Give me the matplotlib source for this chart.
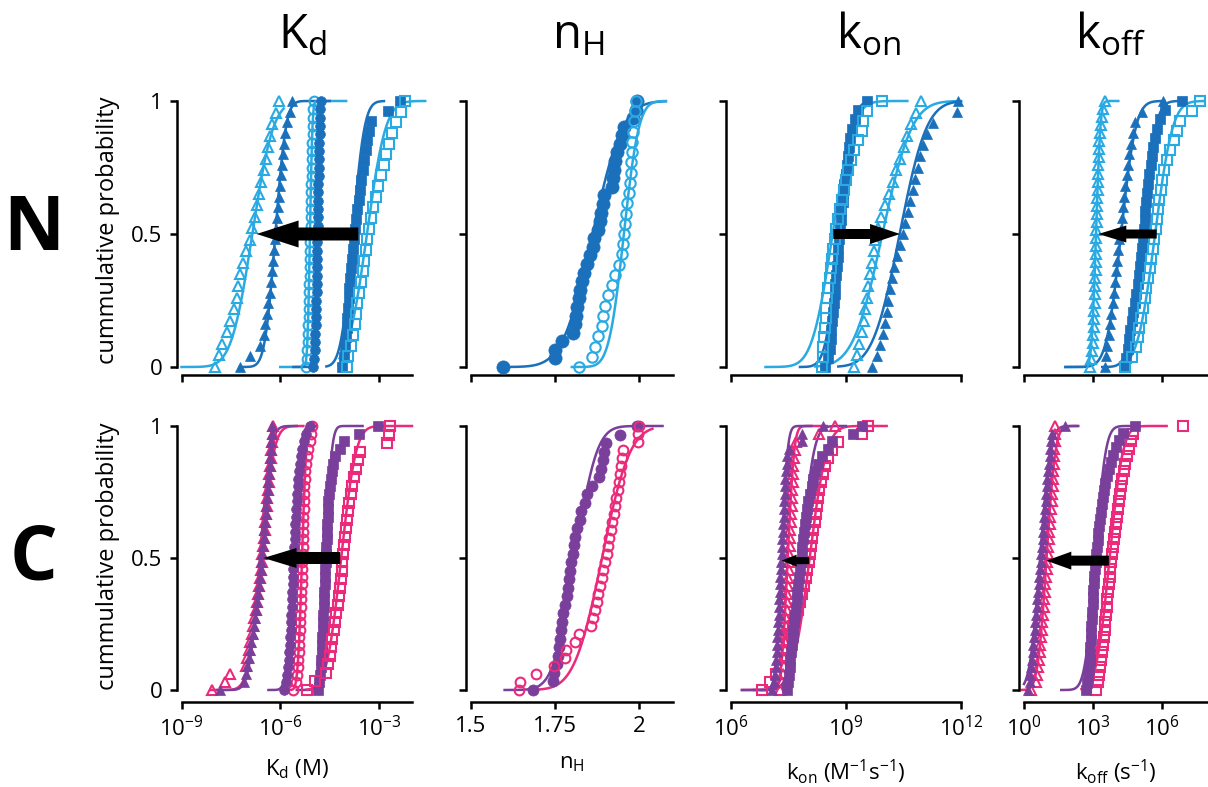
import math
import numpy as np
import matplotlib
matplotlib.use("Agg")
import matplotlib.pyplot as plt
from matplotlib.ticker import FixedLocator, NullLocator

plt.rcParams['font.family'] = ['Open Sans', 'DejaVu Sans']
plt.rcParams['mathtext.default'] = 'regular'

# ---------------- colours ----------------
LIGHT_BLUE = '#2aaae2'
DARK_BLUE = '#1a70bb'
PURPLE = '#7a3e9b'
PINK = '#ec2a7b'

# ---------------- data (log10 values for Kd/kon/koff, raw for nH) ----------------
# cumulative probability of each point = rank / (n - 1)
# --- N row ---
N_KD_TRI_OPEN = [-7.99, -7.85, -7.76, -7.62, -7.54, -7.42, -7.31, -7.27, -7.23, -7.12, -7.03, -6.93,
                 -6.85, -6.78, -6.72, -6.66, -6.58, -6.50, -6.44, -6.38, -6.30, -6.24, -6.14, -6.03]
N_KD_TRI_FILL = [-7.23, -6.93, -6.62, -6.50, -6.45, -6.40, -6.36, -6.32, -6.28, -6.25, -6.22, -6.19, -6.16,
                 -6.13, -6.10, -6.07, -6.04, -6.01, -5.98, -5.95, -5.92, -5.89, -5.85, -5.80, -5.72, -5.63]
N_KD_CIR_OPEN = [-5.21, -5.19, -5.18, -5.17, -5.16, -5.15, -5.14, -5.14, -5.13, -5.12, -5.12, -5.11,
                 -5.11, -5.10, -5.10, -5.09, -5.09, -5.08, -5.08, -5.07, -5.07, -5.06, -5.06, -5.05,
                 -5.05, -5.04, -5.04, -5.03, -5.02, -5.02, -5.01, -5.00, -4.99]
N_KD_CIR_FILL = [-5.00, -4.98, -4.96, -4.95, -4.94, -4.93, -4.92, -4.92, -4.91, -4.90, -4.90, -4.89,
                 -4.89, -4.88, -4.88, -4.87, -4.87, -4.86, -4.86, -4.85, -4.85, -4.84, -4.84, -4.83,
                 -4.83, -4.82, -4.82, -4.81, -4.80, -4.80, -4.79, -4.78, -4.77]
N_KD_SQ_FILL = [-4.13, -4.08, -4.03, -4.00, -3.98, -3.96, -3.94, -3.92, -3.90, -3.88, -3.86, -3.83, -3.80,
                -3.77, -3.74, -3.70, -3.66, -3.62, -3.58, -3.54, -3.50, -3.45, -3.41, -3.36, -3.31, -3.25,
                -2.73, -2.37]
N_KD_SQ_OPEN = [-3.98, -3.93, -3.86, -3.80, -3.74, -3.70, -3.66, -3.60, -3.55, -3.50, -3.45, -3.40, -3.36,
                -3.30, -3.24, -3.18, -3.10, -3.03, -2.95, -2.86, -2.78, -2.70, -2.60, -2.48, -2.32, -2.20]

N_NH_CIR_FILL = [1.596, 1.750, 1.751, 1.770, 1.804, 1.809, 1.812, 1.816, 1.820, 1.824, 1.829, 1.836, 1.844,
                 1.854, 1.864, 1.866, 1.879, 1.884, 1.886, 1.892, 1.896, 1.919, 1.923, 1.926, 1.929, 1.934,
                 1.944, 1.949, 1.954, 1.983, 1.990, 1.994]
N_NH_CIR_OPEN = [1.822, 1.859, 1.869, 1.878, 1.889, 1.892, 1.900, 1.909, 1.919, 1.930, 1.940, 1.948, 1.952,
                 1.955, 1.959, 1.962, 1.965, 1.969, 1.973, 1.976, 1.976, 1.980, 1.980, 1.983, 1.985, 1.987,
                 1.990]

N_KON_SQ_FILL = [8.45, 8.52, 8.57, 8.60, 8.62, 8.64, 8.66, 8.68, 8.70, 8.72, 8.74, 8.76, 8.78, 8.80, 8.82,
                 8.84, 8.86, 8.88, 8.91, 8.93, 8.96, 8.99, 9.02, 9.05, 9.08, 9.11, 9.16, 9.23, 9.32, 9.54]
N_KON_SQ_OPEN = [8.37, 8.39, 8.41, 8.43, 8.45, 8.47, 8.49, 8.51, 8.54, 8.57, 8.60, 8.63, 8.67, 8.71, 8.75,
                 8.80, 8.85, 8.89, 8.94, 9.00, 9.06, 9.13, 9.20, 9.30, 9.41, 9.45, 9.55, 9.93]
N_KON_TRI_OPEN = [9.21, 9.28, 9.35, 9.41, 9.46, 9.50, 9.55, 9.58, 9.63, 9.67, 9.72, 9.76, 9.84, 9.92,
                  10.02, 10.12, 10.22, 10.30, 10.41, 10.50, 10.60, 10.70, 10.82, 10.95]
N_KON_TRI_FILL = [9.67, 9.80, 9.89, 9.96, 10.02, 10.07, 10.10, 10.15, 10.20, 10.24, 10.32, 10.41, 10.48,
                  10.54, 10.61, 10.67, 10.74, 10.80, 10.87, 10.93, 11.02, 11.11, 11.28, 11.89, 11.93]

N_KOFF_TRI_OPEN = [2.87, 2.93, 2.97, 3.00, 3.02, 3.04, 3.05, 3.06, 3.07, 3.08, 3.09, 3.10, 3.11, 3.12,
                   3.13, 3.13, 3.14, 3.15, 3.16, 3.17, 3.18, 3.19, 3.20, 3.21, 3.22, 3.23, 3.24, 3.26,
                   3.28, 3.30, 3.33, 3.37, 3.42, 3.52]
N_KOFF_TRI_FILL = [3.52, 3.55, 3.62, 3.68, 3.74, 3.80, 3.85, 3.90, 3.95, 4.00, 4.05, 4.10, 4.15, 4.20,
                   4.25, 4.30, 4.35, 4.41, 4.46, 4.52, 4.58, 4.65, 4.72, 4.82, 5.12, 6.06]
N_KOFF_SQ_FILL = [4.39, 4.45, 4.52, 4.58, 4.63, 4.70, 4.76, 4.82, 4.88, 4.94, 5.00, 5.05, 5.10, 5.14,
                  5.18, 5.21, 5.24, 5.27, 5.30, 5.34, 5.38, 5.44, 5.50, 5.57, 5.63, 5.70, 5.77, 5.90,
                  6.13, 6.86]
N_KOFF_SQ_OPEN = [4.39, 4.70, 4.88, 4.95, 5.02, 5.10, 5.16, 5.24, 5.32, 5.40, 5.48, 5.54, 5.60, 5.66,
                  5.72, 5.77, 5.83, 5.89, 5.95, 6.02, 6.10, 6.22, 6.35, 6.50, 6.65, 6.80, 7.29, 7.65]

# --- C row ---
C_KD_TRI_FILL = [-7.82, -7.10, -7.04, -7.00, -6.96, -6.92, -6.88, -6.84, -6.80, -6.77, -6.74, -6.71,
                 -6.68, -6.66, -6.63, -6.60, -6.58, -6.55, -6.53, -6.50, -6.48, -6.46, -6.44, -6.42,
                 -6.40, -6.38, -6.36, -6.34, -6.32, -6.31, -6.29, -6.28, -6.26, -6.25]
C_KD_TRI_OPEN = [-8.07, -7.67, -7.52, -7.05, -7.00, -6.95, -6.91, -6.87, -6.83, -6.79, -6.75, -6.72,
                 -6.69, -6.66, -6.63, -6.60, -6.57, -6.55, -6.52, -6.50, -6.47, -6.45, -6.43, -6.41,
                 -6.39, -6.37, -6.35, -6.33, -6.31, -6.29, -6.27, -6.25, -6.23, -6.21]
C_KD_CIR_FILL = [-5.90, -5.84, -5.80, -5.77, -5.75, -5.73, -5.71, -5.70, -5.68, -5.67, -5.66, -5.65,
                 -5.64, -5.63, -5.62, -5.61, -5.60, -5.59, -5.58, -5.57, -5.56, -5.55, -5.54, -5.53,
                 -5.52, -5.50, -5.49, -5.47, -5.45, -5.43, -5.40, -5.37, -5.33, -5.29, -5.22, -5.09]
C_KD_CIR_OPEN = [-5.60, -5.53, -5.49, -5.47, -5.45, -5.44, -5.43, -5.42, -5.41, -5.40, -5.39, -5.38,
                 -5.37, -5.36, -5.35, -5.34, -5.33, -5.33, -5.32, -5.32, -5.31, -5.31, -5.30, -5.30,
                 -5.29, -5.29, -5.28, -5.27, -5.26, -5.24, -5.22, -5.19, -5.15, -5.11, -5.06, -5.03]
C_KD_SQ_FILL = [-4.84, -4.81, -4.79, -4.77, -4.76, -4.74, -4.73, -4.72, -4.71, -4.70, -4.69, -4.68,
                -4.67, -4.66, -4.65, -4.64, -4.63, -4.62, -4.61, -4.60, -4.59, -4.58, -4.57, -4.56,
                -4.55, -4.54, -4.52, -4.50, -4.47, -4.44, -4.40, -4.35, -4.20, -4.08, -3.60, -3.02]
C_KD_SQ_OPEN = [-5.19, -4.94, -4.62, -4.55, -4.50, -4.46, -4.42, -4.38, -4.34, -4.30, -4.26, -4.23,
                -4.20, -4.17, -4.14, -4.12, -4.10, -4.07, -4.04, -4.01, -3.98, -3.94, -3.90, -3.86,
                -3.82, -3.76, -3.70, -3.64, -3.58, -2.77, -2.70, -2.66]

C_NH_CIR_FILL = [1.686, 1.745, 1.748, 1.755, 1.758, 1.762, 1.765, 1.768, 1.772, 1.775, 1.780, 1.785,
                 1.788, 1.792, 1.795, 1.799, 1.803, 1.806, 1.810, 1.815, 1.824, 1.828, 1.838, 1.844,
                 1.859, 1.880, 1.886, 1.892, 1.896, 1.902, 1.943, 1.993]
C_NH_CIR_OPEN = [1.644, 1.645, 1.693, 1.747, 1.780, 1.783, 1.810, 1.822, 1.856, 1.863, 1.869, 1.874,
                 1.879, 1.884, 1.890, 1.894, 1.898, 1.904, 1.908, 1.912, 1.916, 1.920, 1.925, 1.929,
                 1.933, 1.938, 1.941, 1.944, 1.946, 1.948, 1.952, 1.996, 1.998, 1.999]

C_KON_TRI_FILL = [7.06, 7.12, 7.15, 7.17, 7.18, 7.19, 7.20, 7.21, 7.22, 7.23, 7.24, 7.25, 7.26, 7.27,
                  7.28, 7.29, 7.30, 7.31, 7.32, 7.33, 7.34, 7.35, 7.36, 7.37, 7.38, 7.39, 7.40, 7.41,
                  7.42, 7.43, 7.45, 7.47, 7.52, 7.84, 7.86, 8.41]
C_KON_TRI_OPEN = [7.28, 7.32, 7.35, 7.37, 7.38, 7.40, 7.41, 7.42, 7.43, 7.44, 7.45, 7.46, 7.47, 7.48,
                  7.49, 7.50, 7.51, 7.52, 7.53, 7.54, 7.55, 7.56, 7.57, 7.58, 7.59, 7.60, 7.61, 7.62,
                  7.63, 7.65, 7.67, 7.70, 8.30, 8.71]
C_KON_SQ_FILL = [7.45, 7.48, 7.51, 7.53, 7.55, 7.57, 7.59, 7.61, 7.63, 7.65, 7.67, 7.69, 7.71, 7.73,
                 7.75, 7.77, 7.80, 7.82, 7.84, 7.86, 7.88, 7.91, 7.93, 7.96, 7.99, 8.02, 8.06, 8.10,
                 8.15, 8.20, 8.28, 8.38, 8.52, 8.63, 9.19, 9.41]
C_KON_SQ_OPEN = [6.80, 7.02, 7.18, 7.30, 7.40, 7.46, 7.50, 7.56, 7.62, 7.68, 7.74, 7.80, 7.86, 7.91,
                 7.95, 7.99, 8.03, 8.06, 8.09, 8.12, 8.15, 8.18, 8.21, 8.24, 8.27, 8.30, 8.34, 8.39,
                 8.46, 8.54, 8.63, 8.80, 9.41, 9.58]

C_KOFF_TRI_FILL = [0.19, 0.24, 0.28, 0.31, 0.34, 0.37, 0.40, 0.43, 0.46, 0.49, 0.52, 0.55, 0.58, 0.61,
                   0.64, 0.66, 0.69, 0.72, 0.75, 0.78, 0.81, 0.83, 0.86, 0.88, 0.91, 0.94, 0.97, 1.00,
                   1.02, 1.05, 1.08, 1.11, 1.14, 1.17, 1.20, 1.80]
C_KOFF_TRI_OPEN = [0.30, 0.54, 0.58, 0.62, 0.65, 0.68, 0.71, 0.74, 0.77, 0.80, 0.83, 0.85, 0.88, 0.90,
                   0.93, 0.95, 0.98, 1.00, 1.03, 1.05, 1.08, 1.10, 1.13, 1.15, 1.18, 1.20, 1.22, 1.24,
                   1.26, 1.28, 1.30, 1.31, 1.32, 1.33, 1.34, 1.35]
C_KOFF_SQ_FILL = [2.69, 2.76, 2.80, 2.83, 2.85, 2.87, 2.89, 2.90, 2.92, 2.93, 2.95, 2.97, 2.98, 3.00,
                  3.02, 3.04, 3.06, 3.08, 3.11, 3.14, 3.17, 3.20, 3.23, 3.26, 3.29, 3.33, 3.37, 3.42,
                  3.48, 3.54, 3.62, 3.70, 3.78, 3.88, 3.98, 4.12, 4.30, 4.83]
C_KOFF_SQ_OPEN = [3.14, 3.22, 3.28, 3.32, 3.36, 3.40, 3.44, 3.47, 3.50, 3.54, 3.57, 3.60, 3.63, 3.66,
                  3.69, 3.72, 3.75, 3.78, 3.82, 3.86, 3.90, 3.94, 3.98, 4.03, 4.08, 4.13, 4.18, 4.23,
                  4.28, 4.34, 4.40, 4.48, 4.56, 4.64, 4.76, 6.90]

# fitted cumulative-normal curves: (centre, sigma, x from, x to)
FITS = {
    'N_KD_TRI_OPEN': (-6.85, 0.50, -9.0, -5.9), 'N_KD_TRI_FILL': (-6.15, 0.25, -7.23, -4.9),
    'N_KD_CIR_OPEN': (-5.10, 0.06, -6.0, -4.0), 'N_KD_CIR_FILL': (-4.88, 0.06, -5.6, -4.5),
    'N_KD_SQ_FILL': (-3.80, 0.28, -4.6, -2.85), 'N_KD_SQ_OPEN': (-3.37, 0.45, -4.2, -1.6),
    'N_NH_CIR_FILL': (1.862, 0.07, 1.596, 2.08), 'N_NH_CIR_OPEN': (1.955, 0.035, 1.80, 2.08),
    'N_KON_SQ_FILL': (8.82, 0.27, 7.8, 9.6), 'N_KON_SQ_OPEN': (8.65, 0.42, 6.9, 10.6),
    'N_KON_TRI_OPEN': (9.95, 0.60, 8.2, 12.0), 'N_KON_TRI_FILL': (10.40, 0.55, 8.8, 12.0),
    'N_KOFF_TRI_OPEN': (3.13, 0.15, 1.8, 4.1), 'N_KOFF_TRI_FILL': (4.22, 0.50, 1.8, 6.1),
    'N_KOFF_SQ_FILL': (5.15, 0.45, 3.4, 6.9), 'N_KOFF_SQ_OPEN': (5.70, 0.60, 4.2, 7.8),
    'C_KD_TRI_FILL': (-6.62, 0.25, -7.9, -5.5), 'C_KD_TRI_OPEN': (-6.58, 0.30, -8.1, -5.3),
    'C_KD_CIR_FILL': (-5.60, 0.16, -6.36, -4.9), 'C_KD_CIR_OPEN': (-5.34, 0.10, -5.8, -4.9),
    'C_KD_SQ_FILL': (-4.63, 0.15, -5.5, -3.5), 'C_KD_SQ_OPEN': (-4.15, 0.35, -5.2, -2.0),
    'C_NH_CIR_FILL': (1.81, 0.05, 1.60, 2.07), 'C_NH_CIR_OPEN': (1.89, 0.065, 1.686, 2.04),
    'C_KON_TRI_FILL': (7.32, 0.12, 6.28, 8.1), 'C_KON_TRI_OPEN': (7.48, 0.13, 6.3, 8.5),
    'C_KON_SQ_FILL': (7.84, 0.25, 6.8, 9.0), 'C_KON_SQ_OPEN': (8.05, 0.35, 6.6, 10.06),
    'C_KOFF_TRI_FILL': (0.70, 0.35, 0.0, 2.36), 'C_KOFF_TRI_OPEN': (0.98, 0.30, -0.1, 2.3),
    'C_KOFF_SQ_FILL': (3.10, 0.35, 1.62, 4.8), 'C_KOFF_SQ_OPEN': (3.72, 0.45, 2.5, 6.2),
}

# arrows: (tail, tip, y, shaft px, head width px, head length px)
ARROWS = {
    (0, 0): (-3.63, -6.72, 0.50, 13, 27, 42), (0, 2): (8.67, 10.41, 0.50, 10, 20, 30),
    (0, 3): (5.77, 3.23, 0.50, 9, 17, 28),
    (1, 0): (-4.18, -6.51, 0.50, 12, 20, 33), (1, 2): (8.04, 7.32, 0.49, 7, 12, 15),
    (1, 3): (3.69, 0.97, 0.49, 10, 18, 25),
}

COL_TITLES = [r'K$_{d}$', r'n$_{H}$', r'k$_{on}$', r'k$_{off}$']
X_LABELS = [r'K$_{d}$ (M)', r'n$_{H}$', r'k$_{on}$ (M$^{-1}$s$^{-1}$)', r'k$_{off}$ (s$^{-1}$)']
ROW_LABELS = ['N', 'C']
X_TICKS = [[-9, -6, -3], [1.5, 1.75, 2], [6, 9, 12], [0, 3, 6]]
X_TICKLABELS = [[r'10$^{-9}$', r'10$^{-6}$', r'10$^{-3}$'], ['1.5', '1.75', '2'],
                [r'10$^{6}$', r'10$^{9}$', r'10$^{12}$'], [r'10$^{0}$', r'10$^{3}$', r'10$^{6}$']]
X_LIMS = [(-9, -2), (1.5, 2.1), (6, 12), (0, 8)]
Y_TICKS = [0, 0.5, 1]
Y_TICKLABELS = ['0', '0.5', '1']

# series per panel: (name, colour, marker, filled, size)
PANELS = {
    (0, 0): [('N_KD_TRI_OPEN', LIGHT_BLUE, '^', False, 7.5), ('N_KD_TRI_FILL', DARK_BLUE, '^', True, 7),
             ('N_KD_CIR_OPEN', LIGHT_BLUE, 'o', False, 7), ('N_KD_CIR_FILL', DARK_BLUE, 'o', True, 7),
             ('N_KD_SQ_FILL', DARK_BLUE, 's', True, 6.5), ('N_KD_SQ_OPEN', LIGHT_BLUE, 's', False, 6.5)],
    (0, 1): [('N_NH_CIR_FILL', DARK_BLUE, 'o', True, 9.5), ('N_NH_CIR_OPEN', LIGHT_BLUE, 'o', False, 7.5)],
    (0, 2): [('N_KON_SQ_FILL', DARK_BLUE, 's', True, 6.5), ('N_KON_SQ_OPEN', LIGHT_BLUE, 's', False, 7),
             ('N_KON_TRI_OPEN', LIGHT_BLUE, '^', False, 7.5), ('N_KON_TRI_FILL', DARK_BLUE, '^', True, 7)],
    (0, 3): [('N_KOFF_TRI_OPEN', LIGHT_BLUE, '^', False, 7.5), ('N_KOFF_TRI_FILL', DARK_BLUE, '^', True, 7),
             ('N_KOFF_SQ_FILL', DARK_BLUE, 's', True, 6.5), ('N_KOFF_SQ_OPEN', LIGHT_BLUE, 's', False, 7)],
    (1, 0): [('C_KD_TRI_OPEN', PINK, '^', False, 7.5), ('C_KD_TRI_FILL', PURPLE, '^', True, 7.5),
             ('C_KD_CIR_OPEN', PINK, 'o', False, 7), ('C_KD_CIR_FILL', PURPLE, 'o', True, 7),
             ('C_KD_SQ_FILL', PURPLE, 's', True, 7), ('C_KD_SQ_OPEN', PINK, 's', False, 7)],
    (1, 1): [('C_NH_CIR_FILL', PURPLE, 'o', True, 8), ('C_NH_CIR_OPEN', PINK, 'o', False, 7)],
    (1, 2): [('C_KON_SQ_OPEN', PINK, 's', False, 7), ('C_KON_TRI_OPEN', PINK, '^', False, 7.5),
             ('C_KON_TRI_FILL', PURPLE, '^', True, 7.5), ('C_KON_SQ_FILL', PURPLE, 's', True, 7.5)],
    (1, 3): [('C_KOFF_TRI_OPEN', PINK, '^', False, 7.5), ('C_KOFF_TRI_FILL', PURPLE, '^', True, 7.5),
             ('C_KOFF_SQ_OPEN', PINK, 's', False, 7), ('C_KOFF_SQ_FILL', PURPLE, 's', True, 7.5)],
}
SERIES = {k: v for k, v in globals().items() if k.startswith(('N_', 'C_')) and isinstance(v, list)}

# ---------------- layout (pixels) ----------------
W, H = 1208, 787
fig = plt.figure(figsize=(W / 100, H / 100), dpi=100)
COL_X = [(181.5, 412), (471, 672.6), (731, 961), (1024, 1208)]
ROW_Y = [(367, 101, -0.031), (690, 426, -0.045)]  # y of p=0, y of p=1, ylim low
Y_HIGH = 1.06


def erf_cdf(x, c, s):
    return np.array([0.5 * (1 + math.erf((xi - c) / (s * math.sqrt(2)))) for xi in x])


for (r, c), series in PANELS.items():
    y0, y1, ylo = ROW_Y[r]
    k = y0 - y1
    bot = y0 - ylo * k
    top = y1 - (Y_HIGH - 1) * k
    xl, xr = COL_X[c]
    ax = fig.add_axes([xl / W, 1 - bot / H, (xr - xl) / W, (bot - top) / H])
    ax.patch.set_alpha(0)
    ax.set_xlim(*X_LIMS[c])
    ax.set_ylim(ylo, Y_HIGH)

    for name, col, mk, filled, ms in series:
        vals = SERIES[name]
        n = len(vals)
        yy = [i / (n - 1) for i in range(n)]
        fc, fs, flo, fhi = FITS[name]
        xs = np.linspace(flo, fhi, 300)
        ax.plot(xs, erf_cdf(xs, fc, fs), color=col, lw=1.8, zorder=2, clip_on=False)
        ax.plot(vals, yy, linestyle='none', marker=mk, ms=ms,
                mfc=col if filled else 'none', mec=col, mew=1.5 if not filled else 0.5,
                zorder=3, clip_on=False)

    if (r, c) in ARROWS:
        tail, tip, ya, shaft, hw, hl = ARROWS[(r, c)]
        ms_ = 10
        f = 100 / 72 * ms_
        ax.annotate('', xy=(tip, ya), xytext=(tail, ya),
                    arrowprops=dict(arrowstyle=f'simple,head_length={hl / f:.3f},head_width={hw / f:.3f},'
                                               f'tail_width={shaft / f:.3f}',
                                    color='black', mutation_scale=ms_, shrinkA=0, shrinkB=0, lw=0),
                    zorder=6)

    for side in ('top', 'right'):
        ax.spines[side].set_visible(False)
    ax.spines['left'].set_position(('outward', 3.6))
    ax.spines['left'].set_bounds(0, 1)
    ax.spines['left'].set_linewidth(1.8)
    ax.spines['bottom'].set_linewidth(1.8)
    ax.xaxis.set_major_locator(FixedLocator(X_TICKS[c]))
    ax.xaxis.set_minor_locator(NullLocator())
    ax.yaxis.set_major_locator(FixedLocator(Y_TICKS))
    ax.tick_params(axis='both', direction='out', length=5, width=1.8, labelsize=16, pad=5)
    if r == 1:
        ax.set_xticklabels(X_TICKLABELS[c])
        ax.set_xlabel(X_LABELS[c], fontsize=16, labelpad=12)
    else:
        ax.set_xticklabels([])
    if c == 0:
        ax.set_yticklabels(Y_TICKLABELS)
        ax.set_ylabel('cummulative probability', fontsize=17, labelpad=8)
    else:
        ax.set_yticklabels([])

# column titles and row labels
TITLE_X = [302, 578, 868, 1110]
for x, t in zip(TITLE_X, COL_TITLES):
    fig.text(x / W, 1 - 48 / H, t, fontsize=34, ha='center', va='baseline')
for y, t in zip([230, 560], ROW_LABELS):
    fig.text(34 / W, 1 - y / H, t, fontsize=54, fontweight='bold', ha='center', va='center')

fig.savefig('out.png', dpi=100)
